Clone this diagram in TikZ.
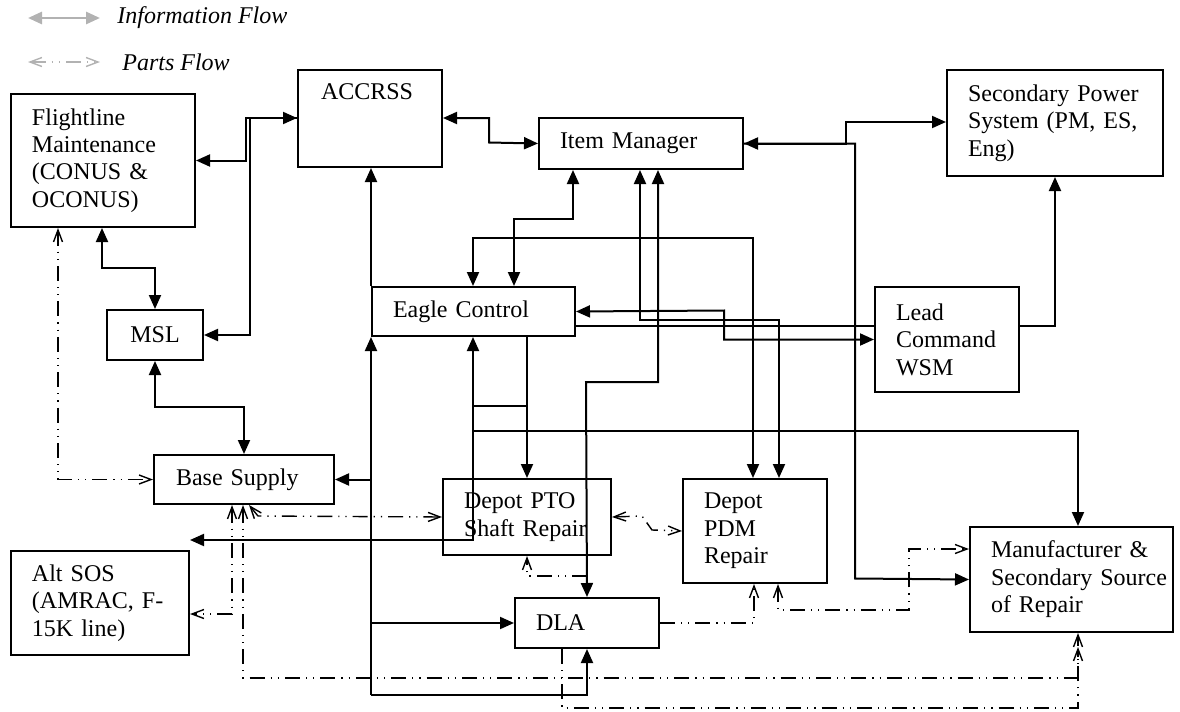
\documentclass[tikz,border=0pt]{standalone}
\usepackage{fontspec}
\setmainfont{Liberation Serif}
\usetikzlibrary{arrows.meta, positioning}

\begin{document}
\begin{tikzpicture}[
    x=0.5pt, y=-0.5pt,
    font=\fontsize{12}{13.7}\selectfont,
    box/.style={rectangle, draw, line width=1pt, anchor=north west, align=left, inner xsep=10.5pt, inner ysep=0pt},
    info/.style={line width=1pt, >={Triangle[length=7pt,width=6pt]}},
    parts/.style={line width=0.7pt, dash pattern=on 7.5pt off 3pt on 0.6pt off 3pt on 0.6pt off 3pt, >={Straight Barb[length=6pt,width=4.5pt]}},
    legend/.style={font=\fontsize{12}{13.7}\selectfont\itshape, anchor=west, inner sep=0pt}
]
    \useasboundingbox (0,0) rectangle (1180,712);

    % Legend
    \node[legend] (infoleg) at (117,18) {Information Flow};
    \node[legend] (partsleg) at (122,62) {Parts Flow};
    \draw[info, <->, color=gray!60, line width=1.4pt] ([xshift=-44.5pt]infoleg.west) -- ([xshift=-8.5pt]infoleg.west);
    \draw[parts, <->, color=gray!60] ([xshift=-47pt]partsleg.west) -- ([xshift=-11pt]partsleg.west);

    % Boxes
    \node[box, text width=71pt, minimum height=66.5pt] (flight) at (10,93) {Flightline\\Maintenance\\(CONUS \&\\OCONUS)};
    \node[box, text width=49pt, inner xsep=11.5pt, minimum height=48.5pt] (accrss) at (297,69) {ACCRSS\\\mbox{}\\\mbox{}};
    \node[box, text width=81pt, minimum height=25.5pt] (item) at (538,117) {Item Manager};
    \node[box, text width=87pt, minimum height=53pt] (sps) at (946,69) {Secondary Power\\System (PM, ES,\\Eng)};
    \node[box, text width=80.5pt, minimum height=24.5pt] (eagle) at (371,286) {Eagle Control};
    \node[box, text width=51pt, minimum height=52.5pt] (lead) at (874,286) {Lead\\Command\\WSM};
    \node[box, text width=27pt, align=center, minimum height=25pt] (msl) at (106,309) {MSL};
    \node[box, text width=68pt, inner xsep=11pt, minimum height=24.5pt] (base) at (153,454) {Base Supply};
    \node[box, text width=63pt, minimum height=38pt] (pto) at (442,478) {Depot PTO\\Shaft Repair};
    \node[box, text width=51pt, minimum height=52pt] (pdm) at (682,478) {Depot\\PDM\\Repair};
    \node[box, text width=51pt, minimum height=25pt] (dla) at (514,597) {DLA};
    \node[box, text width=80.5pt, minimum height=52.5pt] (manuf) at (969,526) {Manufacturer \&\\\mbox{Secondary Source}\\of Repair};
    \node[box, text width=68pt, minimum height=52pt] (altsos) at (10,550) {Alt SOS\\(AMRAC, F-\\15K line)};

    \coordinate (trunk) at (371,695);

    % Information flow
    \draw[info, <->] (flight.east) -| (246,118) -- (accrss.west |- 0,118);
    \draw[info, <-] (msl.east) -| (250,118) -- (accrss.west |- 0,118);
    \draw[info, <->] (flight.south -| 102,0) |- (msl.north |- 0,268) -- (msl.north);
    \draw[info, <->] (msl.south) |- (base.north |- 0,407) -- (base.north);
    \draw[info, <->] (accrss.east |- 0,118) -| (489,142.5) -- (item.west);

    \draw[info, ->] (trunk) -- (eagle.south west);
    \draw[info, ->] (eagle.north west) -- (accrss.south -| eagle.north west);
    \draw[info, ->] (trunk |- base.east) -- (base.east);
    \draw[info, ->] (trunk |- dla.west) -- (dla.west);
    \draw[info, ->] (trunk) -| (dla.south);

    \draw[info, <->] (item.south -| 573,0) |- (514,219) -- (eagle.north -| 514,0);
    \draw[info, <->] (eagle.north -| 473,0) |- (753,238) -- (pdm.north -| 753,0);
    \draw[info, <->] (item.south -| 640,0) |- (779,320) -- (pdm.north -| 779,0);
    \draw[info, <->] (item.south -| 658,0) |- (586,382) -- (dla.north);

    \draw[info, <->] (eagle.east) -- (724,310.5) |- (lead.west);
    \draw[info] (eagle.east |- 0,326) -- (lead.west |- 0,326);
    \draw[info, ->] (lead.east |- 0,326) -| (sps.south);
    \draw[info, <->] (item.east) -| (846,122) -- (sps.west |- 0,122);
    \draw[info, ->] (item.east) -| (855,578.5) -- (manuf.west);

    \draw[info, ->] (eagle.south -| pto.north) -- (pto.north);
    \draw[info, <->] (eagle.south -| 473,0) |- (altsos.north east |- 0,540);
    \draw[info] (473,406) -- (526,406);
    \draw[info, ->] (473,431) -| (manuf.north -| 1078,0);

    % Parts flow
    \draw[parts, <->] (flight.south -| 58,0) |- (base.west);
    \draw[parts, <->] (base.south -| 249,0) -- (258,516) -- (pto.west);
    \draw[parts, <->] (base.south -| 232,0) |- (altsos.east |- 0,614);
    \draw[parts, <->, shorten >=7pt] (base.south -| 243,0) |- (1078,678) -- (manuf.south -| 1078,0);
    \draw[parts, ->] (dla.south -| 562,0) |- (1078,708) -- (manuf.south -| 1078,0);
    \draw[parts, ->] (dla.east) -| (pdm.south -| 754,0);
    \draw[parts, <->] (pdm.south -| 778,0) |- (909,610) |- (manuf.west |- 0,549);
    \draw[parts, <->] (pto.east) -- (642,516) -- (652,530) -- (pdm.west);
    \draw[parts, ->] (dla.north |- 0,576) -| (pto.south);

\end{tikzpicture}
\end{document}
